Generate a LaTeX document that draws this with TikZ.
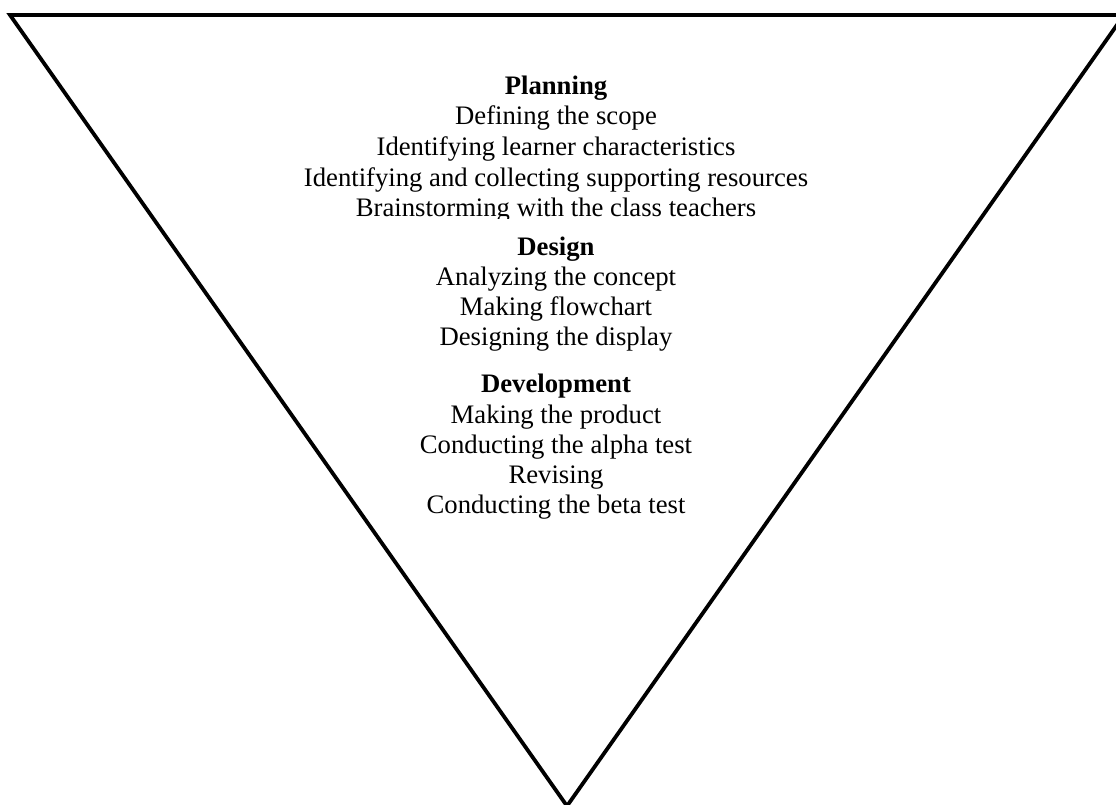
\documentclass[tikz,border=0pt]{standalone}
\usepackage{fontspec}
\setmainfont{Liberation Serif}
\begin{document}
\begin{tikzpicture}[x=1pt,y=-1pt,
  txt/.style={anchor=base,inner sep=0pt,font=\fontsize{26.7}{30}\selectfont},
  head/.style={txt,font=\fontsize{26.7}{30}\selectfont\bfseries},
  tri/.style={draw=black,line width=3.8pt,line join=miter}]
\useasboundingbox (0,0) rectangle (1116,805);
\begin{scope}
\clip (0,0) rectangle (1116,805);
\draw[tri] (10,15) coordinate (tl) -- (1124,15) coordinate (tr) -- (567,806) coordinate (ap) -- cycle;
\end{scope}
% Planning
\node[head] (p0) at (556,95) {Planning};
\node[txt] (p1) at (556,125) {Defining the scope};
\node[txt] (p2) at (556,156) {Identifying learner characteristics};
\node[txt] (p3) at (556,187) {Identifying and collecting supporting resources};
\begin{scope}
\clip (0,0) rectangle (1116,219);
\node[txt] (p4) at (556,216) {Brainstorming with the class teachers};
\end{scope}
% Design
\node[head] (d0) at (556,255) {Design};
\node[txt] (d1) at (556,285) {Analyzing the concept};
\node[txt] (d2) at (556,315) {Making flowchart};
\node[txt] (d3) at (556,345) {Designing the display};
% Development
\node[head] (v0) at (556,392) {Development};
\node[txt] (v1) at (556,423) {Making the product};
\node[txt] (v2) at (556,453) {Conducting the alpha test};
\node[txt] (v3) at (556,483) {Revising};
\node[txt] (v4) at (556,513) {Conducting the beta test};
\end{tikzpicture}
\end{document}
